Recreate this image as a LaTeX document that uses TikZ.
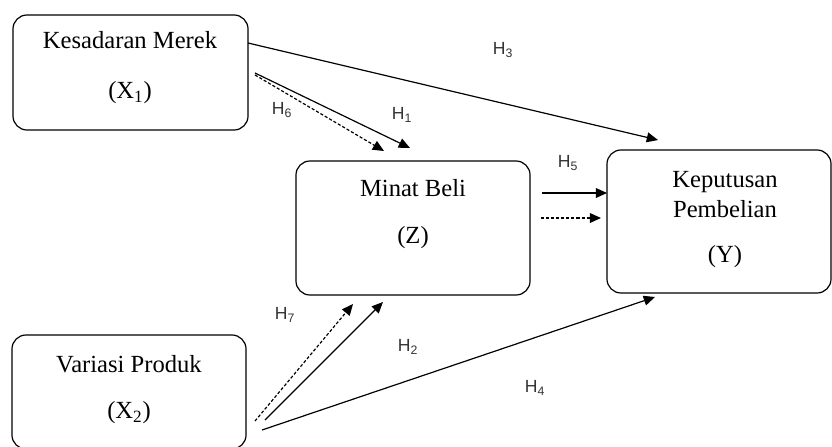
\documentclass[tikz,border=0pt]{standalone}
\usepackage{fontspec}
\setmainfont{Liberation Serif}
\newfontfamily\hfont{Liberation Sans}
\usetikzlibrary{arrows.meta}

\begin{document}
\begin{tikzpicture}[x=0.025cm, y=-0.025cm, line width=0.85pt,
    box/.style={draw, rounded corners=10pt, inner sep=0pt},
    var/.style={align=center, font=\fontsize{17.5}{20}\selectfont},
    hyp/.style={font=\hfont\fontsize{12.5}{14}\selectfont, text=black!80},
    >={Triangle[length=8pt,width=7pt]}]
        \useasboundingbox (0,0) rectangle (832,446);
        % variabel
        \node [box, minimum width=5.875cm, minimum height=2.875cm] (X1) at (130.5, 72.5) {};
        \node [box, minimum width=5.85cm,  minimum height=3.35cm]  (Z)  at (413, 228) {};
        \node [box, minimum width=5.6cm,   minimum height=3.575cm] (Y)  at (719, 221.5) {};
        \node [box, minimum width=5.85cm,  minimum height=2.85cm]  (X2) at (129, 392) {};
        \node [var] (X1t) at (130, 68)    {Kesadaran Merek\\[15.6pt](X\textsubscript{1})};
        \node [var] (Zt)  at (413, 214)   {Minat Beli\\[14pt](Z)};
        \node [var] (Yt)  at (725, 219.5) {Keputusan\\[1.3pt]Pembelian\\[12pt](Y)};
        \node [var] (X2t) at (129, 390)   {Variasi Produk\\[12.7pt](X\textsubscript{2})};
        % ujung panah
        \coordinate (X1a) at (248, 43);
        \coordinate (X1b) at (255, 73);
        \coordinate (X1c) at (255, 75);
        \coordinate (Za)  at (410, 148);
        \coordinate (Zb)  at (384, 151);
        \coordinate (Zc)  at (383, 302);
        \coordinate (Zd)  at (353, 304);
        \coordinate (Zr1) at (542, 193);
        \coordinate (Zr2) at (541, 218);
        \coordinate (Ya)  at (658, 140);
        \coordinate (Yb)  at (607, 193);
        \coordinate (Yc)  at (601, 218);
        \coordinate (Yd)  at (655, 297);
        \coordinate (X2a) at (265, 420);
        \coordinate (X2b) at (255, 421);
        \coordinate (X2c) at (262, 430);
        % hipotesis
        \draw [->] (X1a) -- (Ya);
        \draw [->] (X1b) -- (Za);
        \draw [->, dashed, dash pattern=on 2.2pt off 1.4pt] (X1c) -- (Zb);
        \draw [->] (Zr1) -- (Yb);
        \draw [->, dashed, dash pattern=on 2.2pt off 1.4pt] (Zr2) -- (Yc);
        \draw [->] (X2a) -- (Zc);
        \draw [->, dashed, dash pattern=on 2.2pt off 1.4pt] (X2b) -- (Zd);
        \draw [->] (X2c) -- (Yd);
        \node [hyp] (H1) at (402, 115) {H\textsubscript{1}};
        \node [hyp] (H2) at (408, 347) {H\textsubscript{2}};
        \node [hyp] (H3) at (503, 50)  {H\textsubscript{3}};
        \node [hyp] (H4) at (535, 388) {H\textsubscript{4}};
        \node [hyp] (H5) at (568, 163) {H\textsubscript{5}};
        \node [hyp] (H6) at (282, 110) {H\textsubscript{6}};
        \node [hyp] (H7) at (285, 315) {H\textsubscript{7}};
\end{tikzpicture}
\end{document}
